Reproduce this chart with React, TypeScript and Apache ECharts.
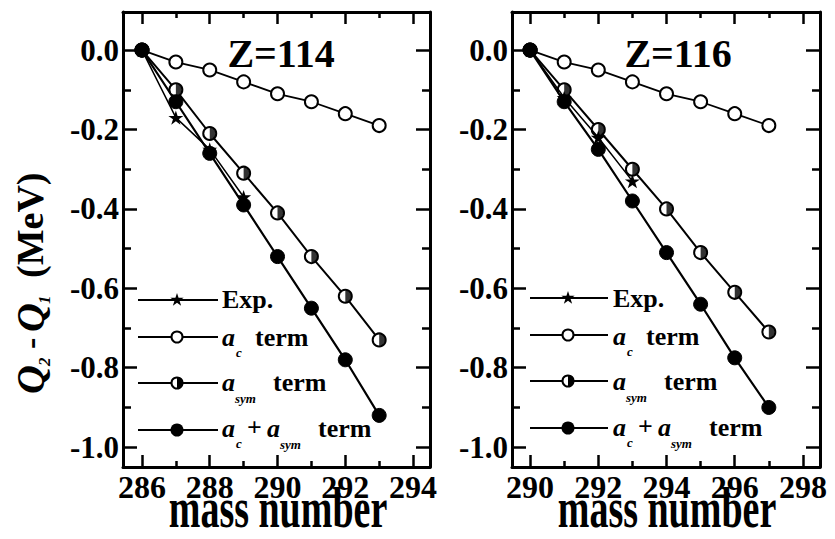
import React, { useEffect, useRef } from 'react';
import * as echarts from 'echarts';

// ---- data ----
const massZ114 = [286, 287, 288, 289, 290, 291, 292, 293];
const acZ114 = [0, -0.03, -0.05, -0.08, -0.11, -0.13, -0.16, -0.19];
const asymZ114 = [0, -0.1, -0.21, -0.31, -0.41, -0.52, -0.62, -0.73];
const bothZ114 = [0, -0.13, -0.26, -0.39, -0.52, -0.65, -0.78, -0.92];
const expMassZ114 = [286, 287, 288, 289];
const expZ114 = [0, -0.17, -0.25, -0.37];

const massZ116 = [290, 291, 292, 293, 294, 295, 296, 297];
const acZ116 = [0, -0.03, -0.05, -0.08, -0.11, -0.13, -0.16, -0.19];
const asymZ116 = [0, -0.1, -0.2, -0.3, -0.4, -0.51, -0.61, -0.71];
const bothZ116 = [0, -0.13, -0.25, -0.38, -0.51, -0.64, -0.775, -0.9];
const expMassZ116 = [290, 291, 292, 293];
const expZ116 = [0, -0.12, -0.22, -0.33];

const xMajorZ114 = [286, 288, 290, 292, 294];
const xMinorZ114 = [287, 289, 291, 293];
const xMajorZ116 = [290, 292, 294, 296, 298];
const xMinorZ116 = [291, 293, 295, 297];
const yMajor = [0, -0.2, -0.4, -0.6, -0.8, -1.0];
const yMinor = [-0.1, -0.3, -0.5, -0.7, -0.9];

const titles = ['Z=114', 'Z=116'];

const FF = 'serif';
const STAR =
  'path://M10,0L12.23,6.93L19.51,6.91L13.61,11.17L15.88,18.09L10,13.8L4.12,18.09L6.39,11.17L0.49,6.91L7.77,6.93Z';
const HALF = 'path://M0,0A10,10 0 0,1 0,20Z';

const zip = (xs: number[], ys: number[]) => xs.map((x, i) => [x, ys[i]]);

function xAxis(gridIndex: number, position: string, min: number, max: number, ticks: number[], len: number, line: boolean, labels?: number[]) {
  return {
    type: 'value', gridIndex, position, min, max,
    axisLine: { show: line, onZero: false, lineStyle: { color: '#000', width: 3 } },
    axisTick: { show: true, inside: true, length: len, customValues: ticks, lineStyle: { color: '#000', width: 2.5 } },
    axisLabel: labels
      ? { show: true, customValues: labels, formatter: (v: number) => String(Math.round(v)), margin: 4, color: '#000', fontSize: 32, fontWeight: 'bold', fontFamily: FF }
      : { show: false },
    splitLine: { show: false },
  };
}

function yAxis(gridIndex: number, position: string, ticks: number[], len: number, line: boolean, labels?: number[]) {
  return {
    type: 'value', gridIndex, position, min: -1.05, max: 0.096,
    axisLine: { show: line, onZero: false, lineStyle: { color: '#000', width: 3 } },
    axisTick: { show: true, inside: true, length: len, customValues: ticks, lineStyle: { color: '#000', width: 2.5 } },
    axisLabel: labels
      ? { show: true, customValues: labels, formatter: (v: number) => (Math.abs(v) < 1e-9 ? '0.0' : v.toFixed(1)), margin: 4, color: '#000', fontSize: 31, fontWeight: 'bold', fontFamily: FF }
      : { show: false },
    splitLine: { show: false },
  };
}

function panelSeries(xi: number, yi: number, mass: number[], ac: number[], asym: number[], both: number[], expM: number[], exp: number[]) {
  const base = { type: 'line', xAxisIndex: xi, yAxisIndex: yi, z: 2 };
  return [
    { ...base, name: 'ac', data: zip(mass, ac), symbol: 'circle', symbolSize: 13, itemStyle: { color: '#fff', borderColor: '#000', borderWidth: 2 }, lineStyle: { color: '#000', width: 1.8 } },
    { ...base, name: 'asym', data: zip(mass, asym), symbol: 'circle', symbolSize: 13, itemStyle: { color: '#fff', borderColor: '#000', borderWidth: 2 }, lineStyle: { color: '#000', width: 2 } },
    { type: 'scatter', xAxisIndex: xi, yAxisIndex: yi, z: 3, data: zip(mass, asym), symbol: HALF, symbolKeepAspect: true, symbolSize: 12, symbolOffset: [3, 0], itemStyle: { color: '#000' } },
    { ...base, name: 'both', data: zip(mass, both), symbol: 'circle', symbolSize: 14, itemStyle: { color: '#000', borderColor: '#000', borderWidth: 1 }, lineStyle: { color: '#000', width: 2.2 } },
    { ...base, name: 'exp', data: zip(expM, exp), symbol: STAR, symbolKeepAspect: true, symbolSize: 15, itemStyle: { color: '#000' }, lineStyle: { color: '#000', width: 1.5 }, z: 4 },
  ];
}

function txt(x: number, y: number, text: string, size: number, italic = false, align = 'left', extra: any = {}) {
  const style: any = { x: 0, y: 0, text, fontFamily: FF, fontSize: size, fontWeight: 'bold', fill: '#000', textAlign: align, textVerticalAlign: 'middle' };
  if (italic) style.fontStyle = 'italic';
  return { type: 'text', x, y, silent: true, ...extra, style };
}

function starPoints(cx: number, cy: number, r: number) {
  const pts: number[][] = [];
  for (let i = 0; i < 10; i++) {
    const a = -Math.PI / 2 + (i * Math.PI) / 5;
    const rr = i % 2 === 0 ? r : r * 0.38;
    pts.push([cx + rr * Math.cos(a), cy + rr * Math.sin(a)]);
  }
  return pts;
}

function legend(lx0: number, lx1: number, mx: number, rows: number[], tx: number, base: number[]) {
  const F = 26;
  const ty = (b: number) => b - 0.34 * F;
  const els: any[] = [];
  rows.forEach((y) => {
    els.push({ type: 'line', silent: true, shape: { x1: lx0, y1: y, x2: lx1, y2: y }, style: { stroke: '#000', lineWidth: 2.2 } });
  });
  els.push({ type: 'polygon', silent: true, shape: { points: starPoints(mx, rows[0], 7) }, style: { fill: '#000' } });
  els.push({ type: 'circle', silent: true, shape: { cx: mx, cy: rows[1], r: 5.5 }, style: { fill: '#fff', stroke: '#000', lineWidth: 2 } });
  els.push({ type: 'circle', silent: true, shape: { cx: mx, cy: rows[2], r: 5.5 }, style: { fill: '#fff', stroke: '#000', lineWidth: 2 } });
  els.push({ type: 'sector', silent: true, shape: { cx: mx, cy: rows[2], r0: 0, r: 6, startAngle: -Math.PI / 2, endAngle: Math.PI / 2, clockwise: true }, style: { fill: '#000' } });
  els.push({ type: 'circle', silent: true, shape: { cx: mx, cy: rows[3], r: 6.5 }, style: { fill: '#000' } });
  els.push(txt(tx, ty(base[0]), 'Exp.', F));
  els.push(txt(tx, ty(base[1]), 'a', F, true));
  els.push(txt(tx + 14, base[1] + 6, 'c', 13, true));
  els.push(txt(tx + 33, ty(base[1]), 'term', F));
  els.push(txt(tx, ty(base[2]), 'a', F, true));
  els.push(txt(tx + 13, base[2] + 7, 'sym', 13, true));
  els.push(txt(tx + 51, ty(base[2]), 'term', F));
  els.push(txt(tx, ty(base[3]), 'a', F, true));
  els.push(txt(tx + 14, base[3] + 6, 'c', 13, true));
  els.push(txt(tx + 25, ty(base[3]) - 1, '+', F));
  els.push(txt(tx + 45, ty(base[3]), 'a', F, true));
  els.push(txt(tx + 58, base[3] + 7, 'sym', 13, true));
  els.push(txt(tx + 96, ty(base[3]), 'term', F));
  return els;
}

export default function App() {
  const ref = useRef<HTMLDivElement>(null);
  useEffect(() => {
    if (!ref.current) return;
    const chart = echarts.init(ref.current, undefined, { renderer: 'svg' });
    const option: any = {
      animation: false,
      backgroundColor: '#fff',
      textStyle: { fontFamily: FF },
      grid: [
        { left: 123, top: 12, width: 307, height: 455 },
        { left: 512, top: 12, width: 308, height: 455 },
      ],
      xAxis: [
        xAxis(0, 'bottom', 285.44, 294.5, xMajorZ114, 12, true, xMajorZ114),
        xAxis(0, 'bottom', 285.44, 294.5, xMinorZ114, 6, false),
        xAxis(0, 'top', 285.44, 294.5, xMajorZ114, 12, true),
        xAxis(0, 'top', 285.44, 294.5, xMinorZ114, 6, false),
        xAxis(1, 'bottom', 289.47, 298.5, xMajorZ116, 12, true, xMajorZ116),
        xAxis(1, 'bottom', 289.47, 298.5, xMinorZ116, 6, false),
        xAxis(1, 'top', 289.47, 298.5, xMajorZ116, 12, true),
        xAxis(1, 'top', 289.47, 298.5, xMinorZ116, 6, false),
      ],
      yAxis: [
        yAxis(0, 'left', yMajor, 14, true, yMajor),
        yAxis(0, 'left', yMinor, 8, false),
        yAxis(0, 'right', yMajor, 14, true),
        yAxis(0, 'right', yMinor, 8, false),
        yAxis(1, 'left', yMajor, 14, true, yMajor),
        yAxis(1, 'left', yMinor, 8, false),
        yAxis(1, 'right', yMajor, 14, true),
        yAxis(1, 'right', yMinor, 8, false),
      ],
      series: [
        ...panelSeries(0, 0, massZ114, acZ114, asymZ114, bothZ114, expMassZ114, expZ114),
        ...panelSeries(4, 4, massZ116, acZ116, asymZ116, bothZ116, expMassZ116, expZ116),
      ],
      graphic: [
        txt(281, 53, titles[0], 40, false, 'center'),
        txt(678, 53, titles[1], 40, false, 'center'),
        txt(278, 508, 'mass number', 38, false, 'center', { scaleY: 1.5 }),
        txt(667, 508, 'mass number', 38, false, 'center', { scaleY: 1.5 }),
        {
          type: 'group', x: 30, y: 394, rotation: Math.PI / 2, silent: true,
          children: [
            txt(0, 0, 'Q', 40, true),
            txt(28, 14, '2', 17, true),
            txt(45, 0, '-', 34),
            txt(62, 0, 'Q', 40, true),
            txt(90, 14, '1', 17, true),
            txt(116, 0, '(MeV)', 38),
          ],
        },
        ...legend(138, 218, 177, [300, 337, 383, 430], 222, [308, 346, 391, 437]),
        ...legend(530, 608, 568, [298, 335, 381, 428], 613, [307, 345, 390, 436]),
      ],
    };
    chart.setOption(option);
    return () => chart.dispose();
  }, []);
  return <div ref={ref} style={{ width: 835, height: 539, margin: -8 }} />;
}
